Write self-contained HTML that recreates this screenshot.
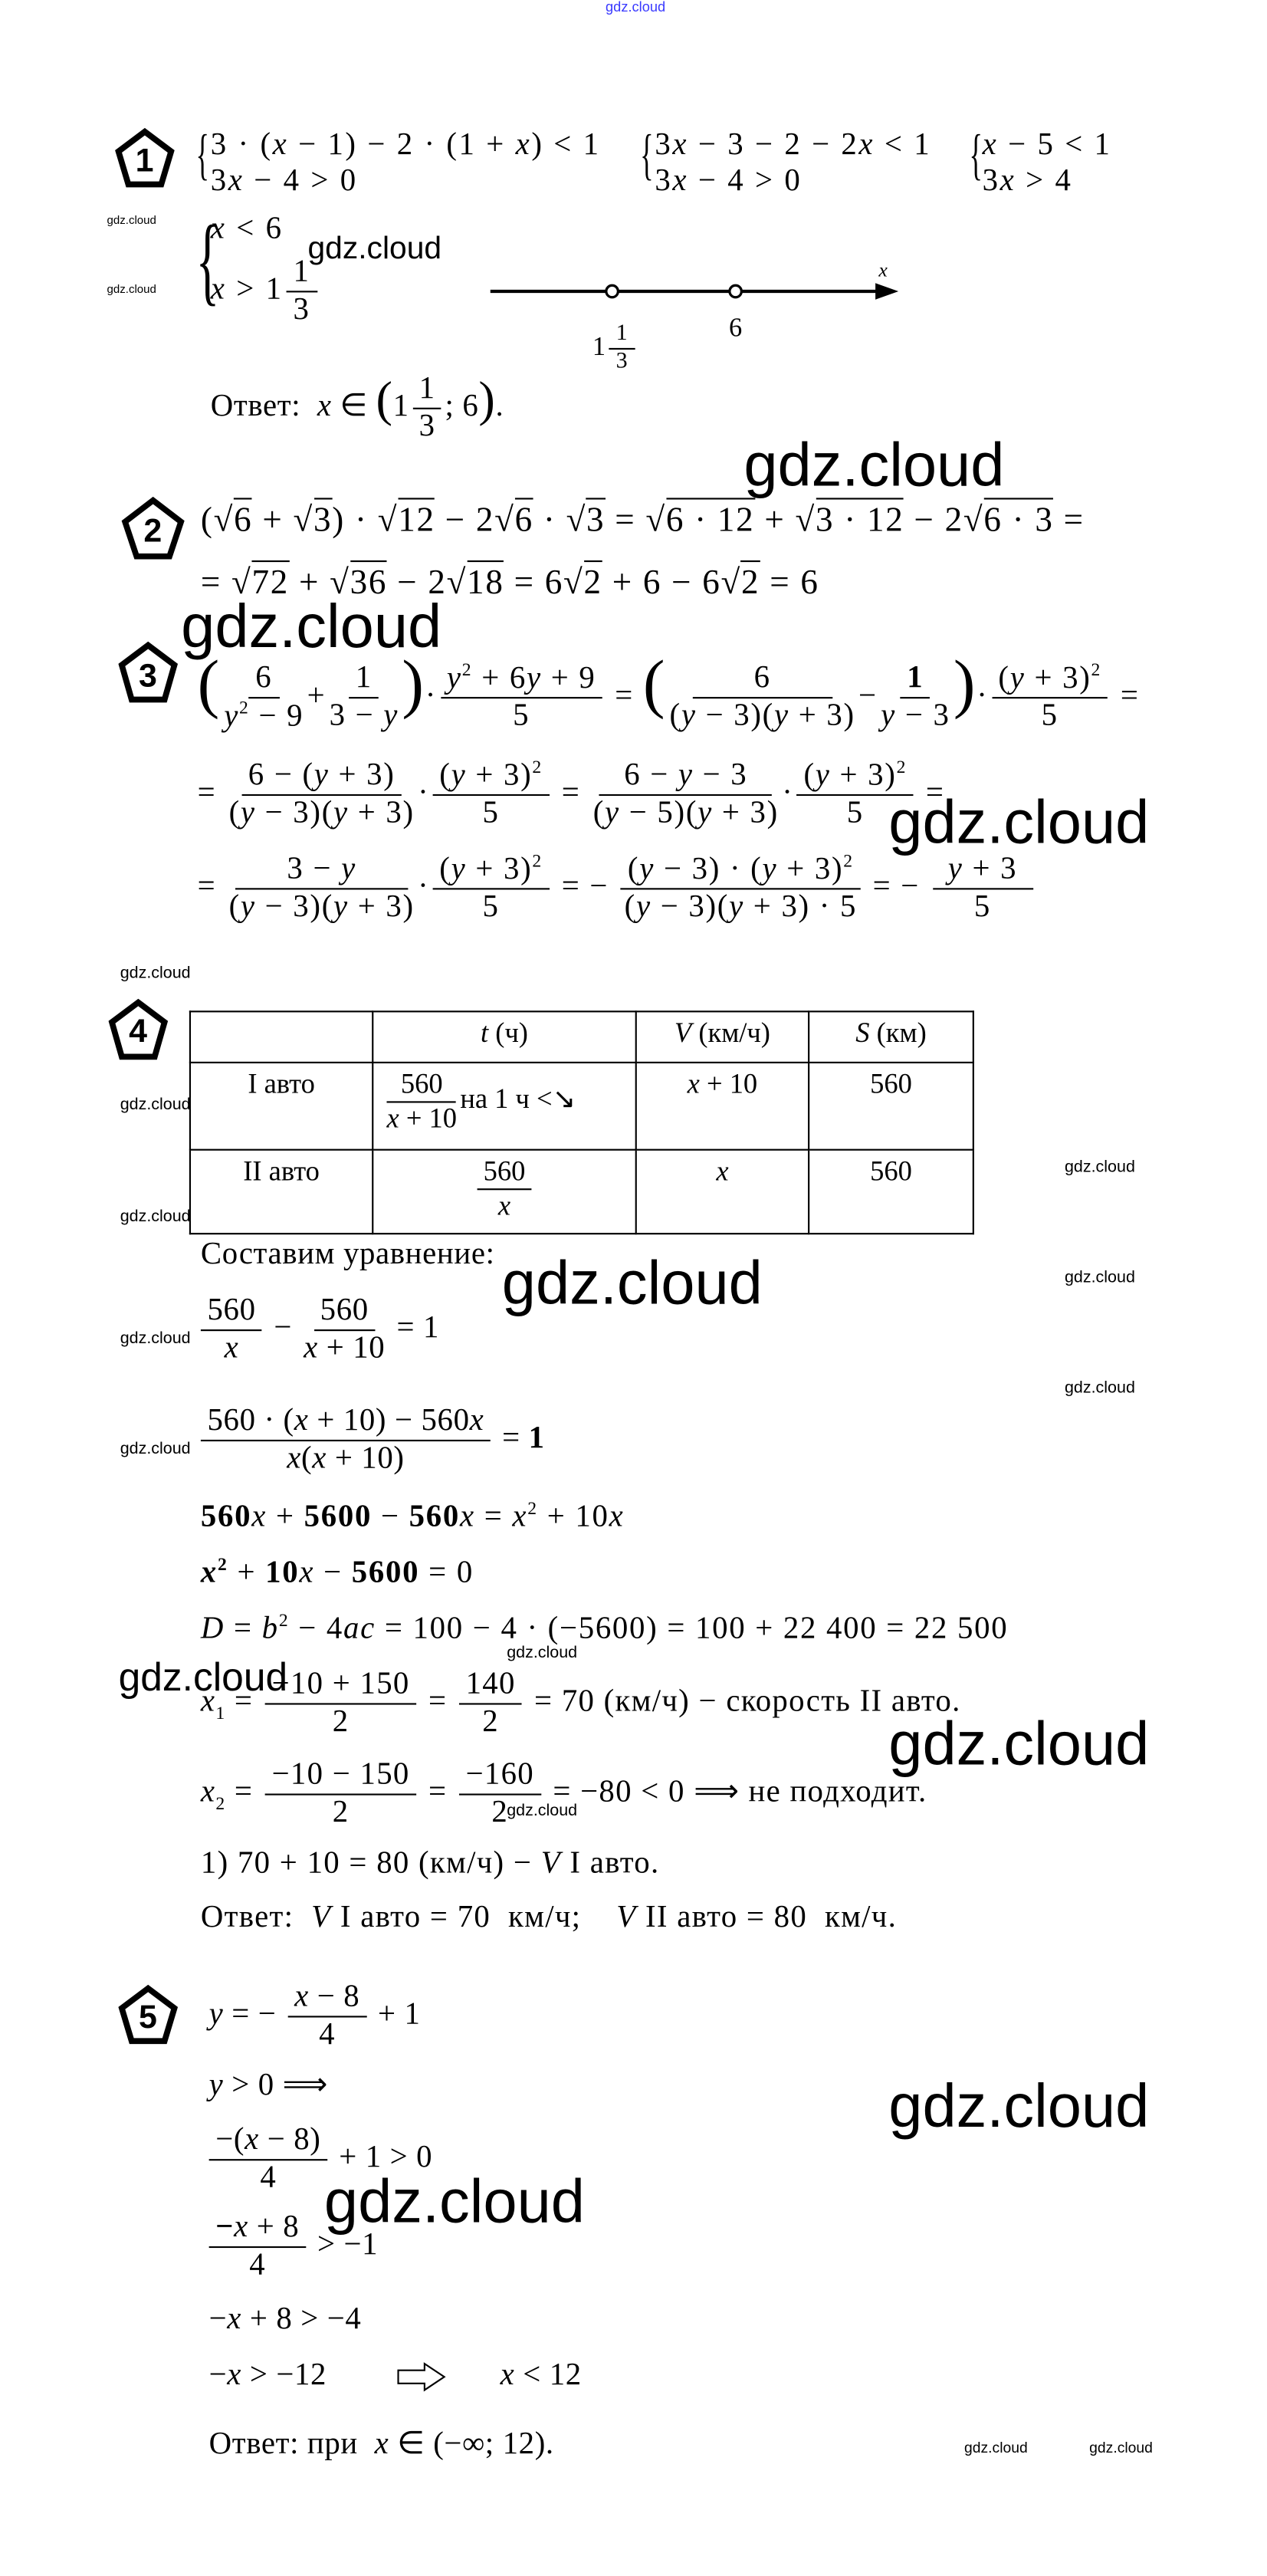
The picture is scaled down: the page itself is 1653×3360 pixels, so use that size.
<!DOCTYPE html>
<html><head><meta charset="utf-8">
<style>
html,body{margin:0;padding:0;background:#fff;}
body{width:1653px;height:3360px;overflow:hidden;position:relative;}
#c{position:absolute;left:0;top:0;width:770px;height:1565px;transform-origin:0 0;transform:scale(2.1468,2.147);
font-family:"Liberation Serif",serif;font-size:19px;letter-spacing:0.3px;color:#000;}
.a{position:absolute;white-space:nowrap;transform:translateY(-50%);line-height:1.1;}
i{font-style:italic;}
.fr{display:inline-flex;flex-direction:column;align-items:center;vertical-align:middle;line-height:1.15;margin:0 2px;}
.fr>span:first-child{border-bottom:1.3px solid #000;padding:0 4px;}
.w{position:absolute;font-family:"Liberation Sans",sans-serif;white-space:nowrap;line-height:1;color:#000;letter-spacing:0;}
.big{font-size:37px;}
.sm{font-size:10px;}
.br{position:absolute;font-size:34px;line-height:1;transform:scaleX(0.5);transform-origin:0 0;font-weight:100;}
.rad{border-top:1.2px solid #000;}
.s1{font-size:19px;letter-spacing:1.2px;}
table{position:absolute;border-collapse:collapse;}
td{border:1.3px solid #000;text-align:center;vertical-align:top;padding:3px 2px;font-size:17px;letter-spacing:0;}
sup,sub{font-size:11px;}
</style></head><body><div id="c">

<div class="w" style="left:368px;top:0;font-size:8.5px;color:#3a3aff">gdz.cloud</div>

<svg style="position:absolute;left:0;top:0" width="770" height="1565">
<g fill="none" stroke="#000" stroke-width="3.6" stroke-linejoin="miter">
<polygon points="88,80 104,92 98,112 78,112 72,92"/>
<polygon points="93,304 110,317 103,338 83,338 76,317"/>
<polygon points="90,392 106,404 100,425 80,425 74,404"/>
<polygon points="84,609 100,621 94,642 74,642 68,621"/>
<polygon points="90,1208 106,1220 100,1240 80,1240 74,1220"/>
</g>
<g font-family="Liberation Sans" font-weight="bold" font-size="20" text-anchor="middle">
<text x="88" y="104">1</text><text x="93" y="329">2</text><text x="90" y="417">3</text><text x="84" y="633">4</text><text x="90" y="1232">5</text>
</g>
<line x1="298" y1="177" x2="535" y2="177" stroke="#000" stroke-width="2"/>
<polygon points="532,172 546,177 532,182" fill="#000"/>
<circle cx="372" cy="177" r="3.6" fill="#fff" stroke="#000" stroke-width="1.5"/>
<circle cx="447" cy="177" r="3.6" fill="#fff" stroke="#000" stroke-width="1.5"/>
<text x="534" y="168" font-family="Liberation Serif" font-style="italic" font-size="12">x</text>
<polygon points="242,1440 258,1440 258,1436 270,1444 258,1452 258,1448 242,1448" fill="none" stroke="#000" stroke-width="1"/>
</svg>

<div class="br" style="left:119px;top:78px">{</div>
<div class="a s1" style="left:128px;top:89px">3 · (<i>x</i> − 1) − 2 · (1 + <i>x</i>) &lt; 1</div>
<div class="a s1" style="left:128px;top:111px">3<i>x</i> − 4 &gt; 0</div>
<div class="br" style="left:389px;top:78px">{</div>
<div class="a s1" style="left:398px;top:89px">3<i>x</i> − 3 − 2 − 2<i>x</i> &lt; 1</div>
<div class="a s1" style="left:398px;top:111px">3<i>x</i> − 4 &gt; 0</div>
<div class="br" style="left:589px;top:78px">{</div>
<div class="a s1" style="left:597px;top:89px"><i>x</i> − 5 &lt; 1</div>
<div class="a s1" style="left:597px;top:111px">3<i>x</i> &gt; 4</div>

<div class="br" style="left:119px;top:128px;font-size:60px">{</div>
<div class="a s1" style="left:128px;top:140px"><i>x</i> &lt; 6</div>
<div class="a s1" style="left:128px;top:177px"><i>x</i> &gt; 1<span class="fr"><span>1</span><span>3</span></span></div>
<div class="w sm" style="left:65px;top:131px;font-size:7px">gdz.cloud</div>
<div class="w sm" style="left:65px;top:173px;font-size:7px">gdz.cloud</div>
<div class="w" style="left:187px;top:142px;font-size:19px">gdz.cloud</div>
<div class="a" style="left:360px;top:212px;font-size:16px">1<span class="fr" style="font-size:14px"><span>1</span><span>3</span></span></div>
<div class="a" style="left:443px;top:200px;font-size:16px">6</div>
<div class="a" style="left:128px;top:248px">Ответ:&nbsp; <i>x</i> ∈ <span style="font-size:30px;font-weight:100">(</span>1<span class="fr"><span>1</span><span>3</span></span>; 6<span style="font-size:30px;font-weight:100">)</span>.</div>

<div class="w big" style="left:452px;top:264px">gdz.cloud</div>

<div class="a" style="left:122px;top:316px;font-size:21px;letter-spacing:0.8px">(√<span class="rad">6</span> + √<span class="rad">3</span>) · √<span class="rad">12</span> − 2√<span class="rad">6</span> · √<span class="rad">3</span> = √<span class="rad">6 · 12</span> + √<span class="rad">3 · 12</span> − 2√<span class="rad">6 · 3</span> =</div>
<div class="a" style="left:122px;top:354px;font-size:21px;letter-spacing:0.8px">= √<span class="rad">72</span> + √<span class="rad">36</span> − 2√<span class="rad">18</span> = 6√<span class="rad">2</span> + 6 − 6√<span class="rad">2</span> = 6</div>
<div class="w big" style="left:110px;top:362px">gdz.cloud</div>

<div class="a" style="left:120px;top:420px;letter-spacing:0.8px"><span style="font-size:40px;font-weight:100">(</span><span class="fr"><span>6</span><span><i>y</i><sup>2</sup> − 9</span></span>+<span class="fr"><span>1</span><span>3 − <i>y</i></span></span><span style="font-size:40px;font-weight:100">)</span>·<span class="fr"><span><i>y</i><sup>2</sup> + 6<i>y</i> + 9</span><span>5</span></span> = <span style="font-size:40px;font-weight:100">(</span><span class="fr"><span>&nbsp;&nbsp;&nbsp;&nbsp;&nbsp;&nbsp;6&nbsp;&nbsp;&nbsp;&nbsp;&nbsp;&nbsp;</span><span>(<i>y</i> − 3)(<i>y</i> + 3)</span></span>−<span class="fr"><span><b>1</b></span><span><i>y</i> − 3</span></span><span style="font-size:40px;font-weight:100">)</span>·<span class="fr"><span>(<i>y</i> + 3)<sup>2</sup></span><span>5</span></span> =</div>
<div class="a" style="left:120px;top:483px;letter-spacing:0.8px">= <span class="fr"><span>6 − (<i>y</i> + 3)</span><span>(<i>y</i> − 3)(<i>y</i> + 3)</span></span>·<span class="fr"><span>(<i>y</i> + 3)<sup>2</sup></span><span>5</span></span> = <span class="fr"><span>&nbsp;&nbsp;6 − <i>y</i> − 3&nbsp;&nbsp;</span><span>(<i>y</i> − 5)(<i>y</i> + 3)</span></span>·<span class="fr"><span>(<i>y</i> + 3)<sup>2</sup></span><span>5</span></span> =</div>
<div class="a" style="left:120px;top:540px;letter-spacing:0.8px">= <span class="fr"><span>&nbsp;&nbsp;&nbsp;&nbsp;&nbsp;3 − <i>y</i>&nbsp;&nbsp;&nbsp;&nbsp;&nbsp;</span><span>(<i>y</i> − 3)(<i>y</i> + 3)</span></span>·<span class="fr"><span>(<i>y</i> + 3)<sup>2</sup></span><span>5</span></span> = − <span class="fr"><span>(<i>y</i> − 3) · (<i>y</i> + 3)<sup>2</sup></span><span>(<i>y</i> − 3)(<i>y</i> + 3) · 5</span></span> = − <span class="fr"><span>&nbsp;<i>y</i> + 3&nbsp;</span><span>5</span></span></div>
<div class="w big" style="left:540px;top:481px">gdz.cloud</div>

<div class="w sm" style="left:73px;top:587px">gdz.cloud</div>
<table style="left:115px;top:614px;width:477px;height:136px">
<tr style="height:31px"><td style="width:106px"></td><td style="width:155px"><i>t</i> (ч)</td><td style="width:100px"><i>V</i> (км/ч)</td><td><i>S</i> (км)</td></tr>
<tr style="height:53px"><td>I авто</td><td style="text-align:left;padding-left:6px"><span class="fr"><span>&nbsp;560&nbsp;</span><span><i>x</i> + 10</span></span>на 1 ч &lt;↘</td><td><i>x</i> + 10</td><td>560</td></tr>
<tr><td>II авто</td><td><span class="fr"><span>560</span><span><i>x</i></span></span></td><td><i>x</i></td><td>560</td></tr>
</table>
<div class="w sm" style="left:73px;top:667px">gdz.cloud</div>
<div class="w sm" style="left:73px;top:735px">gdz.cloud</div>
<div class="w sm" style="left:647px;top:705px">gdz.cloud</div>
<div class="w sm" style="left:647px;top:772px">gdz.cloud</div>
<div class="w sm" style="left:647px;top:839px">gdz.cloud</div>
<div class="w sm" style="left:73px;top:809px">gdz.cloud</div>
<div class="w sm" style="left:73px;top:876px">gdz.cloud</div>

<div class="a" style="left:122px;top:763px">Составим уравнение:</div>
<div class="w big" style="left:305px;top:761px">gdz.cloud</div>
<div class="a" style="left:120px;top:808px"><span class="fr"><span>560</span><span><i>x</i></span></span> − <span class="fr"><span>560</span><span><i>x</i> + 10</span></span> = 1</div>
<div class="a" style="left:120px;top:875px"><span class="fr"><span>560 · (<i>x</i> + 10) − 560<i>x</i></span><span><i>x</i>(<i>x</i> + 10)</span></span> = <b>1</b></div>
<div class="a" style="left:122px;top:922px;letter-spacing:0.8px"><b>560</b><i>x</i> + <b>5600</b> − <b>560</b><i>x</i> = <i>x</i><sup>2</sup> + 10<i>x</i></div>
<div class="a" style="left:122px;top:956px;letter-spacing:0.8px"><i><b>x</b></i><sup><b>2</b></sup> + <b>10</b><i>x</i> − <b>5600</b> = 0</div>
<div class="a" style="left:122px;top:990px;letter-spacing:0.8px"><i>D</i> = <i>b</i><sup>2</sup> − 4<i>ac</i> = 100 − 4 · (−5600) = 100 + 22 400 = 22 500</div>
<div class="w sm" style="left:308px;top:1000px">gdz.cloud</div>
<div class="a" style="left:122px;top:1035px;letter-spacing:0.6px"><i>x</i><sub>1</sub> = <span class="fr"><span>−10 + 150</span><span>2</span></span> = <span class="fr"><span>140</span><span>2</span></span> = 70 (км/ч) − скорость II авто.</div>
<div class="w" style="left:72px;top:1008px;font-size:24px">gdz.cloud</div>
<div class="w big" style="left:540px;top:1041px">gdz.cloud</div>
<div class="a" style="left:122px;top:1090px;letter-spacing:0.6px"><i>x</i><sub>2</sub> = <span class="fr"><span>−10 − 150</span><span>2</span></span> = <span class="fr"><span>−160</span><span>2</span></span> = −80 &lt; 0 ⟹ не подходит.</div>
<div class="w sm" style="left:308px;top:1096px">gdz.cloud</div>
<div class="a" style="left:122px;top:1133px;letter-spacing:0.6px">1) 70 + 10 = 80 (км/ч) − <i>V</i> I авто.</div>
<div class="a" style="left:122px;top:1166px;letter-spacing:0.6px">Ответ:&nbsp; <i>V</i> I авто = 70&nbsp; км/ч;&nbsp;&nbsp;&nbsp; <i>V</i> II авто = 80&nbsp; км/ч.</div>

<div class="a" style="left:127px;top:1225px"><i>y</i> = − <span class="fr"><span><i>x</i> − 8</span><span>4</span></span> + 1</div>
<div class="a" style="left:127px;top:1268px"><i>y</i> &gt; 0 ⟹</div>
<div class="w big" style="left:540px;top:1261px">gdz.cloud</div>
<div class="a" style="left:125px;top:1312px"><span class="fr"><span>−(<i>x</i> − 8)</span><span>4</span></span> + 1 &gt; 0</div>
<div class="w big" style="left:197px;top:1319px">gdz.cloud</div>
<div class="a" style="left:125px;top:1365px"><span class="fr"><span><b>−</b><i>x</i> + 8</span><span>4</span></span> &gt; −1</div>
<div class="a" style="left:127px;top:1410px">−<i>x</i> + 8 &gt; −4</div>
<div class="a" style="left:127px;top:1444px">−<i>x</i> &gt; −12</div>
<div class="a" style="left:304px;top:1444px"><i>x</i> &lt; 12</div>
<div class="a" style="left:127px;top:1486px">Ответ: при&nbsp; <i>x</i> ∈ (−∞; 12).</div>
<div class="w" style="left:586px;top:1483px;font-size:9px">gdz.cloud</div>
<div class="w" style="left:662px;top:1483px;font-size:9px">gdz.cloud</div>

</div></body></html>
